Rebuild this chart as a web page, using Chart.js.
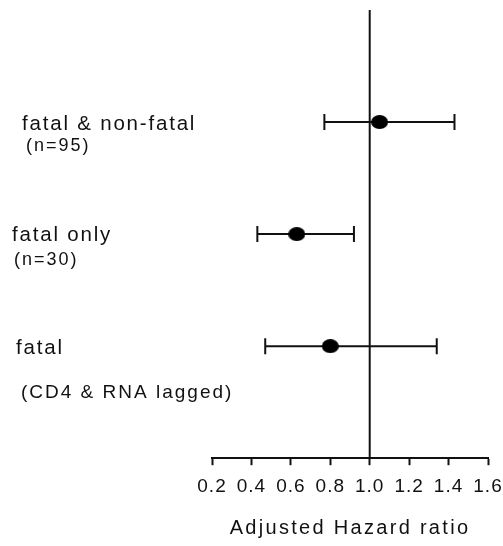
<!DOCTYPE html>
<html>
<head>
<meta charset="utf-8">
<script src="https://cdn.jsdelivr.net/npm/chart.js@4/dist/chart.umd.min.js"></script>
<style>
  html, body { margin: 0; padding: 0; background: #fff; }
  canvas { display: block; }
</style>
</head>
<body>
<canvas id="forest" width="503" height="546"></canvas>
<script>
/* forest plot: adjusted hazard ratios */
const rowLabels = ["fatal & non-fatal", "fatal only", "fatal"];
const rowNotes = ["(n=95)", "(n=30)", "(CD4 & RNA lagged)"];
const hazard = [1.05, 0.63, 0.80];
const lower = [0.77, 0.43, 0.47];
const upper = [1.43, 0.92, 1.34];
const refValue = 1.0;
const xTicks = [0.2, 0.4, 0.6, 0.8, 1.0, 1.2, 1.4, 1.6];
const axisTitle = "Adjusted Hazard ratio";

// text placement (layout only)
const labelX = [22, 12, 16], labelDy = [7.5, 7, 7.5];
const noteX = [26, 14, 21], noteDy = [28.5, 30.5, 52];
const noteSize = [18, 18, 19];
const INK = "#111";
const FONT = '"Liberation Sans", Arial, sans-serif';

function makeDot(w, h) {
  const c = document.createElement("canvas");
  c.width = w; c.height = h;
  const g = c.getContext("2d");
  g.fillStyle = "#000";
  g.beginPath();
  g.ellipse(w / 2, h / 2, w / 2, h / 2, 0, 0, Math.PI * 2);
  g.fill();
  return c;
}

const rowPos = hazard.map((_, i) => i + 1);

const markers = {
  type: "scatter",
  data: hazard.map((v, i) => ({ x: v, y: rowPos[i] })),
  pointStyle: makeDot(17, 14),
  pointRadius: 8,
  order: 0
};

const whiskers = hazard.map((_, i) => ({
  type: "line",
  data: [{ x: lower[i], y: rowPos[i] }, { x: upper[i], y: rowPos[i] }],
  borderColor: INK,
  borderWidth: 2,
  pointStyle: "line",
  pointRotation: 90,
  pointRadius: 8,
  pointBorderWidth: 2,
  pointBorderColor: INK,
  order: 1
}));

const refLine = {
  type: "line",
  data: [{ x: refValue, y: 0 }, { x: refValue, y: 4 }],
  borderColor: INK,
  borderWidth: 2,
  pointRadius: 0,
  order: 2
};

const textPlugin = {
  id: "forestText",
  beforeDraw(chart) { chart.ctx.letterSpacing = "1px"; },
  afterDraw(chart) {
    const { ctx, chartArea, scales } = chart;
    ctx.save();
    ctx.fillStyle = INK;
    ctx.textBaseline = "alphabetic";
    ctx.textAlign = "left";
    rowLabels.forEach((label, i) => {
      const y = scales.y.getPixelForValue(rowPos[i]);
      ctx.font = "20.5px " + FONT;
      ctx.letterSpacing = "1.8px";
      ctx.fillText(label, labelX[i], y + labelDy[i]);
      ctx.font = noteSize[i] + "px " + FONT;
      ctx.letterSpacing = "2px";
      ctx.fillText(rowNotes[i], noteX[i], y + noteDy[i]);
    });
    ctx.textAlign = "center";
    ctx.font = "20px " + FONT;
    ctx.letterSpacing = "2.3px";
    ctx.fillText(axisTitle, (chartArea.left + chartArea.right) / 2, chartArea.bottom + 75.5);
    ctx.restore();
  }
};

new Chart(document.getElementById("forest"), {
  type: "scatter",
  data: { datasets: [markers, ...whiskers, refLine] },
  options: {
    responsive: false,
    animation: false,
    events: [],
    layout: { padding: { left: 212, right: 15, top: 9.5, bottom: 38 } },
    plugins: { legend: { display: false }, tooltip: { enabled: false } },
    scales: {
      x: {
        type: "linear",
        min: xTicks[0],
        max: xTicks[xTicks.length - 1],
        afterBuildTicks: scale => { scale.ticks = xTicks.map(v => ({ value: v })); },
        afterFit: scale => { scale.paddingLeft = 0; scale.paddingRight = 0; },
        ticks: {
          callback: v => Number(v).toFixed(1),
          font: { family: FONT, size: 19 },
          color: INK,
          padding: 10,
          maxRotation: 0,
          autoSkip: false
        },
        grid: { drawOnChartArea: false, drawTicks: true, tickLength: 7, tickWidth: 2, tickColor: INK },
        border: { display: true, color: INK, width: 2 }
      },
      y: { type: "linear", min: 0, max: 4, reverse: true, display: false }
    }
  },
  plugins: [textPlugin]
});
</script>
</body>
</html>
